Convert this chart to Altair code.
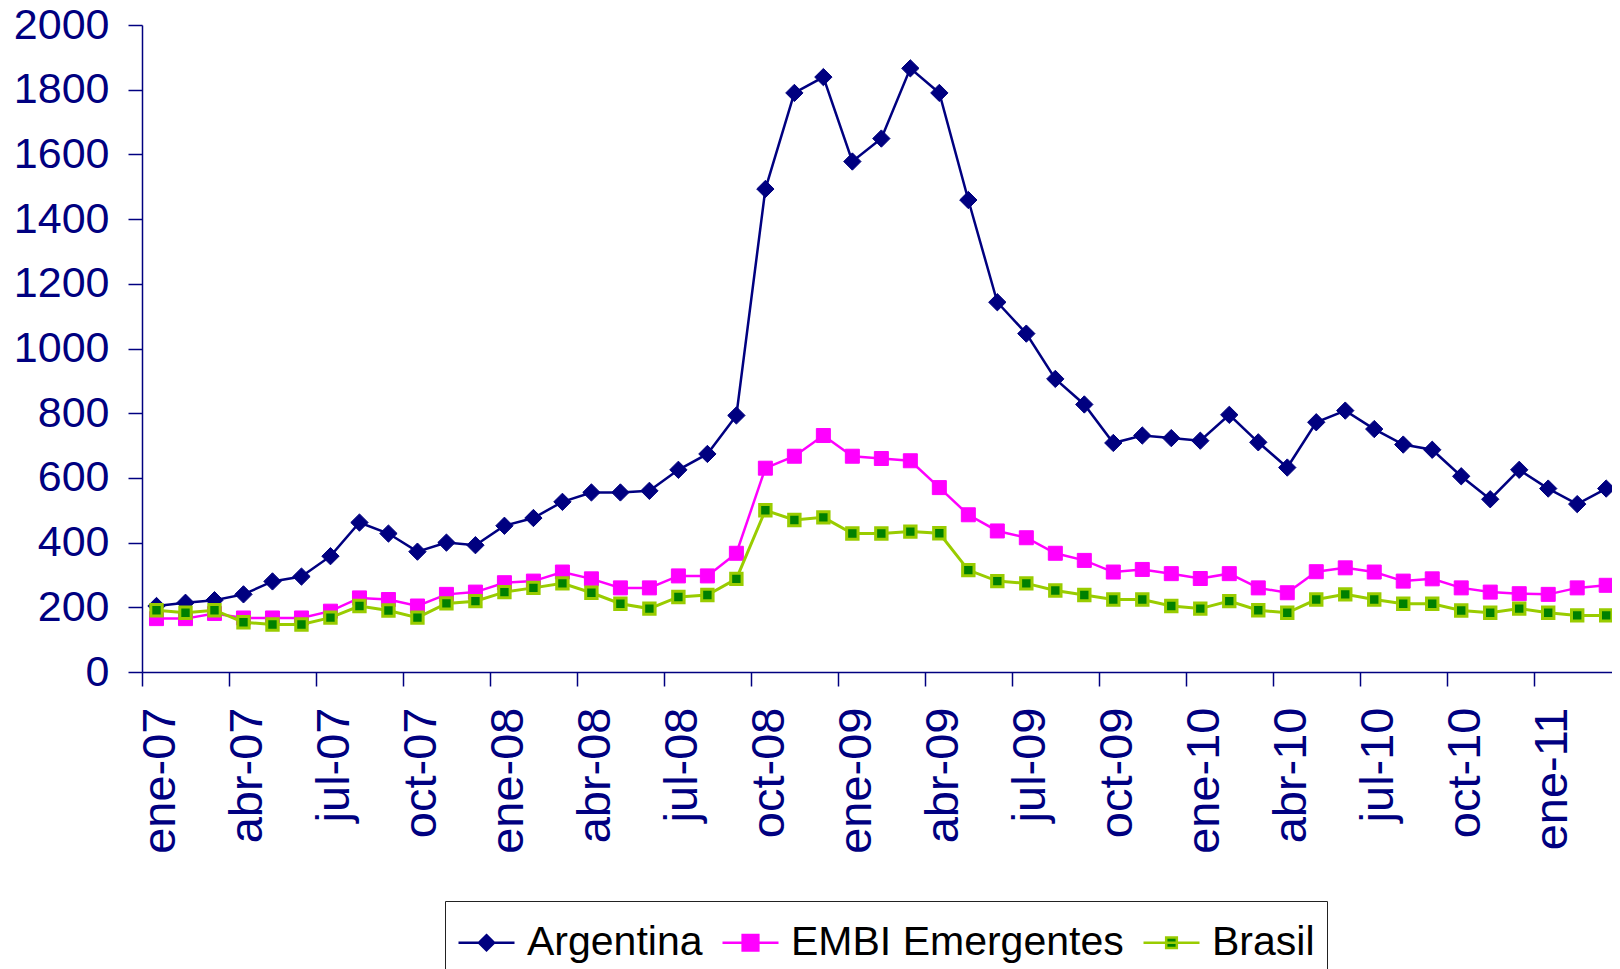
import altair as alt
import pandas as pd

# ---- data ----
series_names = ["Argentina", "EMBI Emergentes", "Brasil"]

argentina = [204, 214, 222, 240, 280, 295, 358, 462, 428, 372, 400, 392, 452,
             476, 526, 555, 555, 560, 625, 674, 793,
             1493, 1790, 1839, 1578, 1649, 1866, 1790, 1459, 1143,
             1046, 906, 827, 708, 731, 723, 715, 795, 710, 632, 772,
             808, 751, 703, 687, 605, 534, 625, 567, 519, 567]

embi = [165, 165, 181, 167, 167, 167, 188, 229, 224, 204, 240, 247, 276,
        281, 309, 288, 260, 260, 297, 297, 367,
        630, 667, 731, 667, 660, 653, 570, 486, 436,
        415, 367, 345, 309, 317, 304, 289, 304, 260, 245, 310,
        322, 309, 281, 288, 260, 247, 242, 240, 260, 268]

brasil = [191, 183, 191, 154, 147, 147, 168, 204, 190, 168, 212, 219, 247,
          260, 274, 245, 211, 196, 232, 238, 288,
          500, 470, 478, 428, 428, 434, 429, 315, 281,
          274, 252, 238, 224, 224, 204, 196, 219, 191, 183, 224,
          240, 224, 211, 211, 190, 183, 196, 183, 175, 175]

tick_labels = ["ene-07", "abr-07", "jul-07", "oct-07", "ene-08", "abr-08", "jul-08",
               "oct-08", "ene-09", "abr-09", "jul-09", "oct-09", "ene-10", "abr-10",
               "jul-10", "oct-10", "ene-11"]

y_ticks = [0, 200, 400, 600, 800, 1000, 1200, 1400, 1600, 1800, 2000]

# ---- styles ----
NAVY = "#000080"
MAGENTA = "#FF00FF"
YGREEN = "#99CC00"
DGREEN = "#008000"
FONT = "Liberation Sans, Arial, sans-serif"

values_by_series = {"Argentina": argentina, "EMBI Emergentes": embi, "Brasil": brasil}
rows = []
for name in series_names:
    for i, v in enumerate(values_by_series[name]):
        rows.append({"idx": i, "value": v, "series": name})
df = pd.DataFrame(rows)

tick_vals = [-0.5 + 3 * k for k in range(len(tick_labels))]
label_expr = "[" + ",".join(f"'{t}'" for t in tick_labels) + "][round((datum.value + 0.5) / 3)]"

x_enc = alt.X(
    "idx:Q",
    scale=alt.Scale(domain=[-0.5, 50.2], nice=False, zero=False),
    axis=alt.Axis(
        values=tick_vals, labelExpr=label_expr, labelAngle=270,
        labelAlign="right", labelBaseline="middle", labelOffset=18.5,
        labelFlush=False, labelOverlap=False, labelFontSize=47,
        labelPadding=21, tickSize=14, grid=False, title=None,
    ),
)
y_enc = alt.Y(
    "value:Q",
    scale=alt.Scale(domain=[0, 2000], nice=False, zero=True),
    axis=alt.Axis(
        values=y_ticks, format="d", labelFontSize=43, labelPadding=19,
        tickSize=14, grid=False, title=None,
    ),
)

base = alt.Chart(df)

styles = {
    "Argentina": dict(line=NAVY, lw=2.5, shape="diamond", fill=NAVY, stroke=NAVY, sw=1, size=300),
    "EMBI Emergentes": dict(line=MAGENTA, lw=2.5, shape="square", fill=MAGENTA, stroke=MAGENTA, sw=1, size=196),
    "Brasil": dict(line=YGREEN, lw=3, shape="square", fill=DGREEN, stroke=YGREEN, sw=3, size=130),
}

layers = []
for name in series_names:
    st = styles[name]
    sub = base.transform_filter(alt.datum.series == name)
    layers.append(sub.mark_line(color=st["line"], strokeWidth=st["lw"]).encode(x=x_enc, y=y_enc))
    layers.append(
        sub.mark_point(shape=st["shape"], filled=True, fill=st["fill"], stroke=st["stroke"],
                       strokeWidth=st["sw"], size=st["size"], opacity=1)
        .encode(x=x_enc, y=y_enc)
    )

# legend driver (points placed outside the x domain and clipped)
legend_df = pd.DataFrame({"series": series_names, "idx": [-5] * 3, "value": [0] * 3})
legend_paths = [
    "M-1,0H1M0,-0.27L0.27,0L0,0.27L-0.27,0Z",
    "M-1,0H1M-0.28,-0.28H0.28V0.28H-0.28Z",
    "M-1,0H1M-0.19,-0.19H0.19V0.19H-0.19Z",
]
leg = alt.Legend(
    orient="none", legendX=303, legendY=876, direction="horizontal", title=None,
    symbolSize=3136, symbolStrokeWidth=2.5, labelFontSize=41, labelFont=FONT,
    labelColor="black", labelOffset=11, columnPadding=14, padding=12,
    strokeColor="#222222", fillColor="white", labelLimit=0,
)
legend_layer = alt.Chart(legend_df).mark_point(filled=True, clip=True, opacity=1, strokeWidth=2.5).encode(
    x=x_enc, y=y_enc,
    shape=alt.Shape("series:N", scale=alt.Scale(domain=series_names, range=legend_paths), legend=leg),
    fill=alt.Fill("series:N", scale=alt.Scale(domain=series_names, range=[NAVY, MAGENTA, DGREEN]), legend=leg),
    stroke=alt.Stroke("series:N", scale=alt.Scale(domain=series_names, range=[NAVY, MAGENTA, YGREEN]), legend=leg),
)

chart = alt.layer(*layers, legend_layer).properties(
    width=1470, height=647,
    autosize=alt.AutoSizeParams(type="none"),
    padding={"left": 134, "top": 17, "right": 0, "bottom": 297},
    background="white",
).configure_view(stroke=None).configure_axis(
    labelFont=FONT, labelColor=NAVY, domainColor=NAVY, tickColor=NAVY,
    domainWidth=1.5, tickWidth=1.5,
)

chart.save("out.html", embed_options={"renderer": "svg", "actions": False})
